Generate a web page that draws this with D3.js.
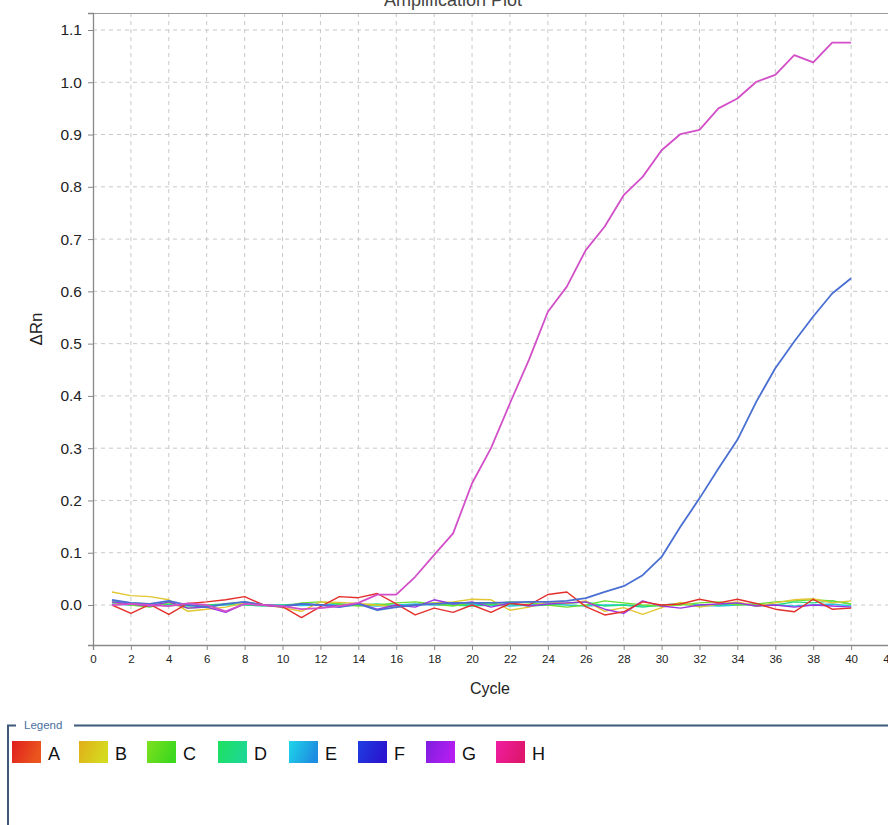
<!DOCTYPE html>
<html><head><meta charset="utf-8">
<script src="https://cdn.jsdelivr.net/npm/d3@7"></script>
<style>html,body{margin:0;padding:0;background:#fff;overflow:hidden}svg{display:block}</style>
</head><body>
<svg id="c" width="888" height="825"></svg>
<script>
const cycles = d3.range(1, 41);
const seriesNames = ["A","B","C","D","E","F","G","H"];
const legendFrom = ["#e01e1e","#e0ae1a","#7ee01e","#1ee05e","#1ed6ea","#1e3ee2","#7e1ee0","#f01ea2"];
const legendTo   = ["#ea561e","#d6da1e","#3ed81e","#1ed892","#1e8ee0","#2a16ce","#b41ef0","#de166e"];
const lineColors = ["#e4302c","#e2c632","#6cde30","#22dc82","#26c2e2","#4a6fd2","#9a34e2","#d24fc8"];
const A = [0.0,-0.016,0.001,-0.018,0.003,0.006,0.01,0.016,0.0,-0.003,-0.024,-0.003,0.016,0.014,0.022,0.002,-0.019,-0.006,-0.014,0.0,-0.014,0.003,0.0,0.02,0.025,-0.003,-0.019,-0.013,0.006,0.0,0.002,0.011,0.004,0.011,0.003,-0.008,-0.013,0.011,-0.008,-0.006];
const B = [0.025,0.018,0.016,0.01,-0.012,-0.008,-0.004,0.004,0.0,-0.005,-0.012,0.006,0.005,0.003,0.0,-0.004,0.0,0.004,0.006,0.011,0.01,-0.01,-0.004,0.006,0.003,0.008,-0.012,-0.005,-0.018,-0.005,0.005,-0.004,0.002,0.006,-0.002,0.004,0.01,0.012,0.004,0.008];
const C = [0.005,0.0,-0.004,0.004,-0.006,-0.004,0.002,0.006,0.0,-0.003,0.004,0.006,0.002,-0.002,0.0,0.004,0.006,0.002,-0.002,0.004,0.002,0.006,0.004,0.0,-0.004,0.0,0.008,0.004,0.0,-0.002,0.0,0.004,0.006,0.0,0.002,0.006,0.008,0.01,0.008,0.002];
const D = [0.008,0.004,0.002,0.0,-0.002,0.0,0.002,0.0,-0.002,0.0,0.002,0.0,-0.003,0.0,0.002,-0.002,0.0,0.004,0.0,-0.002,0.0,0.002,-0.002,0.0,0.003,0.006,-0.002,0.0,-0.004,0.0,0.002,-0.002,0.0,0.003,-0.002,0.0,0.006,0.004,0.008,0.002];
const E = [0.002,0.0,-0.002,0.001,0.0,-0.002,0.0,0.002,0.0,0.0,-0.001,0.0,0.002,0.0,-0.002,0.0,0.002,0.0,0.0,0.002,0.0,-0.002,0.0,0.002,0.0,-0.002,0.0,0.0,-0.002,0.0,0.002,0.0,-0.002,0.0,0.002,0.0,-0.002,0.0,0.002,-0.002];
const F = [0.01,0.004,0.002,0.008,0.0,-0.004,0.002,0.006,0.0,-0.002,0.002,0.0,-0.004,0.002,-0.01,-0.004,0.0,0.002,0.004,0.004,0.004,0.005,0.006,0.006,0.008,0.013,0.025,0.036,0.057,0.092,0.150,0.204,0.261,0.316,0.389,0.453,0.504,0.552,0.596,0.625];
const G = [0.006,0.002,-0.002,0.006,-0.006,-0.004,-0.014,0.002,0.0,-0.004,0.002,0.0,-0.002,0.003,-0.008,0.0,-0.004,0.01,0.002,0.006,-0.004,0.004,-0.002,0.002,0.004,0.006,-0.008,-0.016,0.008,-0.002,-0.006,0.0,0.002,0.004,-0.002,0.0,-0.004,0.0,-0.002,-0.004];
const H = [0.0,0.002,0.0,-0.002,0.003,0.0,-0.012,0.002,0.0,-0.002,-0.008,-0.006,-0.002,0.004,0.02,0.02,0.054,0.096,0.137,0.233,0.300,0.386,0.469,0.561,0.609,0.679,0.724,0.784,0.819,0.870,0.901,0.909,0.950,0.969,1.001,1.014,1.052,1.038,1.076,1.076];
const seriesValues = [A,B,C,D,E,F,G,H];
const xTicks = d3.range(0, 43, 2);
const yTicks = [0.0,0.1,0.2,0.3,0.4,0.5,0.6,0.7,0.8,0.9,1.0,1.1];

(function(){
const svg = d3.select("#c");
const x = d3.scaleLinear().domain([0, 42.5]).range([93, 898.5]);
const y = d3.scaleLinear().domain([-0.0765, 1.1325]).range([645, 13]);
const pL = 93, pR = 888, pT = 13, pB = 645;

svg.append("text").attr("x", 453).attr("y", 6).attr("text-anchor","middle")
  .attr("font-family","Liberation Sans, Arial, sans-serif").attr("font-size",18).attr("fill","#444")
  .text("Amplification Plot");

const g = svg.append("g");
g.selectAll("line.hg").data(yTicks).join("line").attr("class","hg")
  .attr("x1", pL).attr("x2", pR).attr("y1", d=>y(d)).attr("y2", d=>y(d))
  .attr("stroke","#c8c8c8").attr("stroke-dasharray","4,4").attr("stroke-width",1);
g.selectAll("line.vg").data(xTicks.filter(d=>d>0)).join("line").attr("class","vg")
  .attr("x1", d=>x(d)).attr("x2", d=>x(d)).attr("y1", pT).attr("y2", pB)
  .attr("stroke","#c8c8c8").attr("stroke-dasharray","4,4").attr("stroke-width",1);
svg.append("line").attr("x1",pL).attr("x2",pR).attr("y1",pT+0.5).attr("y2",pT+0.5)
  .attr("stroke","#9a9a9a").attr("stroke-width",1.2);

const yAxis = svg.append("g").attr("transform",`translate(${pL},0)`)
  .call(d3.axisLeft(y).tickValues(yTicks).tickFormat(d3.format(".1f")).tickSize(5).tickPadding(6));
yAxis.select(".domain").attr("stroke","#888").attr("stroke-width",1.3);
yAxis.selectAll(".tick line").attr("stroke","#888");
yAxis.selectAll("text").attr("font-family","Liberation Sans, Arial, sans-serif").attr("font-size",15.5).attr("fill","#222");
const xAxis = svg.append("g").attr("transform",`translate(0,${pB})`)
  .call(d3.axisBottom(x).tickValues(xTicks).tickFormat(d3.format("d")).tickSize(5).tickPadding(5));
xAxis.select(".domain").attr("stroke","#888").attr("stroke-width",1.3);
xAxis.selectAll(".tick line").attr("stroke","#888");
xAxis.selectAll("text").attr("font-family","Liberation Sans Narrow, Liberation Sans, Arial, sans-serif").attr("font-size",11.5).attr("fill","#222");

svg.append("text").attr("x",490).attr("y",694).attr("text-anchor","middle")
  .attr("font-family","Liberation Sans, Arial, sans-serif").attr("font-size",16).attr("fill","#222").text("Cycle");
svg.append("text").attr("transform","translate(42,329) rotate(-90)").attr("text-anchor","middle")
  .attr("font-family","Liberation Sans, Arial, sans-serif").attr("font-size",17).attr("fill","#222").text("ΔRn");

const line = d3.line().x((d,i)=>x(cycles[i])).y(d=>y(d));
const order = [4,3,2,1,6,0,5,7];
svg.append("g").selectAll("path").data(order).join("path")
  .attr("d", i=>line(seriesValues[i])).attr("fill","none")
  .attr("stroke", i=>lineColors[i]).attr("stroke-width", i=> (i===5||i===7)?1.8:1.4)
  .attr("stroke-linejoin","round");

const lf = svg.append("g");
lf.append("path").attr("d","M8,825 L8,725.5 L16,725.5").attr("fill","none").attr("stroke","#3d5a7a").attr("stroke-width",2);
lf.append("line").attr("x1",74).attr("x2",888).attr("y1",725.5).attr("y2",725.5).attr("stroke","#3d5a7a").attr("stroke-width",2);
lf.append("text").attr("x",24).attr("y",729).attr("font-family","Liberation Sans, Arial, sans-serif")
  .attr("font-size",11.5).attr("fill","#4a6fa0").text("Legend");
const defs = svg.append("defs");
seriesNames.forEach((n,i)=>{
  const gr = defs.append("linearGradient").attr("id","lg"+i).attr("x1","0").attr("x2","1").attr("y1","0").attr("y2","0.3");
  gr.append("stop").attr("offset","0").attr("stop-color",legendFrom[i]);
  gr.append("stop").attr("offset","1").attr("stop-color",legendTo[i]);
});
const legX = [12,79,147,218,289,358,426,496];
const li = svg.append("g").selectAll("g").data(seriesNames).join("g")
  .attr("transform",(d,i)=>`translate(${legX[i]},741)`);
li.append("rect").attr("width",29).attr("height",22).attr("fill",(d,i)=>`url(#lg${i})`);
li.append("text").attr("x",36).attr("y",19).attr("font-family","Liberation Sans, Arial, sans-serif")
  .attr("font-size",18).attr("fill","#111").text(d=>d);
})();
</script>
</body></html>
